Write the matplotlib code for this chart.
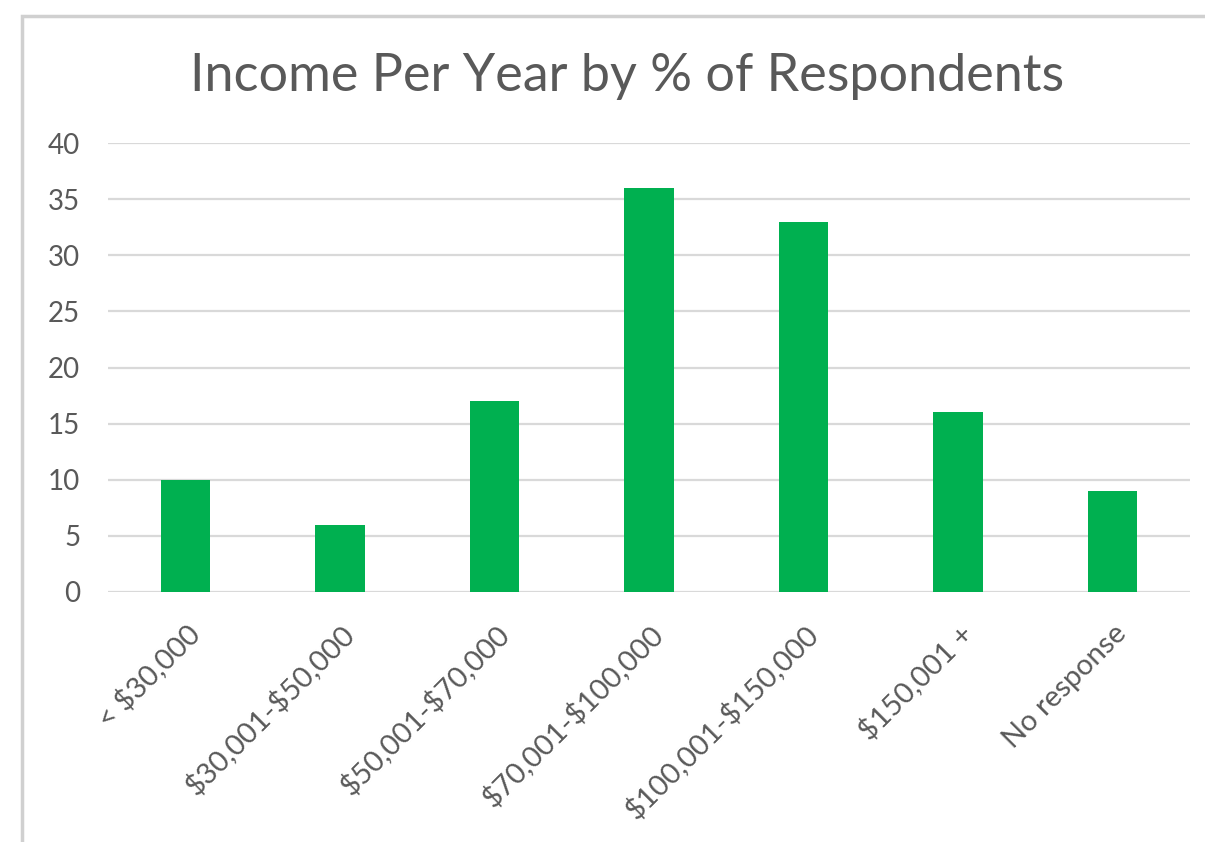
import matplotlib.pyplot as plt
from matplotlib.patches import Rectangle

categories = ['< $30,000', '$30,001-$50,000', '$50,001-$70,000', '$70,001-$100,000',
              '$100,001-$150,000', '$150,001 +', 'No response']
percent = [10, 6, 17, 36, 33, 16, 9]
yticks = [0, 5, 10, 15, 20, 25, 30, 35, 40]

plt.rcParams['font.family'] = ['Lato', 'DejaVu Sans']
plt.rcParams['text.parse_math'] = False  # keep the dollar signs literal
text_color = '#595959'

fig = plt.figure(figsize=(12.05, 8.42), dpi=100)
ax = fig.add_axes([108 / 1205, 1 - 592 / 842, (1190 - 108) / 1205, (592 - 143) / 842])

# chart frame, cut off on the right and bottom
fig.patches.append(Rectangle((22 / 1205, -0.1), 1.2, 1 - 16 / 842 + 0.1,
                             transform=fig.transFigure, fill=False,
                             edgecolor='#D0D0D0', linewidth=2.5))

x = range(len(categories))
ax.bar(x, percent, width=0.32, color='#00B050', zorder=3)

ax.set_xlim(-0.5, len(categories) - 0.5)
ax.set_ylim(0, 40)
ax.set_yticks(yticks)
ax.set_yticklabels([str(v) for v in yticks], fontsize=20, color=text_color)
ax.set_xticks(list(x))
ax.set_xticklabels(categories, rotation=45, ha='right', va='top',
                   rotation_mode='anchor', fontsize=21, color=text_color)
ax.tick_params(axis='both', length=0)
ax.tick_params(axis='y', pad=20)
ax.tick_params(axis='x', pad=20)

ax.grid(axis='y', color='#D9D9D9', linewidth=1.6, zorder=0)
for s in ax.spines.values():
    s.set_visible(False)

fig.text(627 / 1205, 1 - 76 / 842, 'Income Per Year by % of Respondents',
         ha='center', va='center', fontsize=37.5, color=text_color)

fig.savefig('out.png', dpi=100)
